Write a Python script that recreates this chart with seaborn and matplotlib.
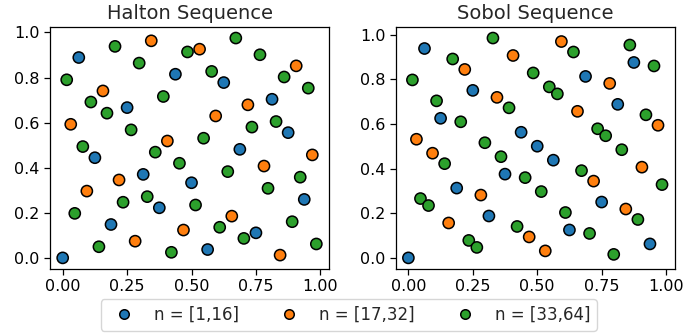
import matplotlib
matplotlib.use("Agg")
import matplotlib.pyplot as plt
import seaborn as sns
import pandas as pd

# First 64 points of the 2-D Halton sequence (bases 2 and 3)
halton_x = [
    0.0, 0.5, 0.25, 0.75, 0.125, 0.625, 0.375, 0.875,
    0.0625, 0.5625, 0.3125, 0.8125, 0.1875, 0.6875, 0.4375, 0.9375,
    0.03125, 0.53125, 0.28125, 0.78125, 0.15625, 0.65625, 0.40625, 0.90625,
    0.09375, 0.59375, 0.34375, 0.84375, 0.21875, 0.71875, 0.46875, 0.96875,
    0.015625, 0.515625, 0.265625, 0.765625, 0.140625, 0.640625, 0.390625, 0.890625,
    0.078125, 0.578125, 0.328125, 0.828125, 0.203125, 0.703125, 0.453125, 0.953125,
    0.046875, 0.546875, 0.296875, 0.796875, 0.171875, 0.671875, 0.421875, 0.921875,
    0.109375, 0.609375, 0.359375, 0.859375, 0.234375, 0.734375, 0.484375, 0.984375,
]
halton_y = [
    0.0, 0.3333, 0.6667, 0.1111, 0.4444, 0.7778, 0.2222, 0.5556,
    0.8889, 0.0370, 0.3704, 0.7037, 0.1481, 0.4815, 0.8148, 0.2593,
    0.5926, 0.9259, 0.0741, 0.4074, 0.7407, 0.1852, 0.5185, 0.8519,
    0.2963, 0.6296, 0.9630, 0.0123, 0.3457, 0.6790, 0.1235, 0.4568,
    0.7901, 0.2346, 0.5679, 0.9012, 0.0494, 0.3827, 0.7160, 0.1605,
    0.4938, 0.8272, 0.2716, 0.6049, 0.9383, 0.0864, 0.4198, 0.7531,
    0.1975, 0.5309, 0.8642, 0.3086, 0.6420, 0.9753, 0.0247, 0.3580,
    0.6914, 0.1358, 0.4691, 0.8025, 0.2469, 0.5802, 0.9136, 0.0617,
]

# First 64 points of the unscrambled 2-D Sobol sequence
sobol_x = [
    0.0, 0.5, 0.75, 0.25, 0.375, 0.875, 0.625, 0.125,
    0.1875, 0.6875, 0.9375, 0.4375, 0.3125, 0.8125, 0.5625, 0.0625,
    0.09375, 0.59375, 0.84375, 0.34375, 0.46875, 0.96875, 0.71875, 0.21875,
    0.15625, 0.65625, 0.90625, 0.40625, 0.28125, 0.78125, 0.53125, 0.03125,
    0.046875, 0.546875, 0.796875, 0.296875, 0.421875, 0.921875, 0.671875, 0.171875,
    0.234375, 0.734375, 0.984375, 0.484375, 0.359375, 0.859375, 0.609375, 0.109375,
    0.078125, 0.578125, 0.828125, 0.328125, 0.453125, 0.953125, 0.703125, 0.203125,
    0.140625, 0.640625, 0.890625, 0.390625, 0.265625, 0.765625, 0.515625, 0.015625,
]
sobol_y = [
    0.0, 0.5, 0.25, 0.75, 0.375, 0.875, 0.125, 0.625,
    0.3125, 0.8125, 0.0625, 0.5625, 0.1875, 0.6875, 0.4375, 0.9375,
    0.46875, 0.96875, 0.21875, 0.71875, 0.09375, 0.59375, 0.34375, 0.84375,
    0.15625, 0.65625, 0.40625, 0.90625, 0.28125, 0.78125, 0.03125, 0.53125,
    0.265625, 0.765625, 0.015625, 0.515625, 0.140625, 0.640625, 0.390625, 0.890625,
    0.078125, 0.578125, 0.328125, 0.828125, 0.453125, 0.953125, 0.203125, 0.703125,
    0.234375, 0.734375, 0.484375, 0.984375, 0.359375, 0.859375, 0.109375, 0.609375,
    0.421875, 0.921875, 0.171875, 0.671875, 0.046875, 0.546875, 0.296875, 0.796875,
]

group_labels = ["n = [1,16]", "n = [17,32]", "n = [33,64]"]
group_sizes = [16, 16, 32]
panel_titles = ["Halton Sequence", "Sobol Sequence"]
palette = ["#1f77b4", "#ff7f0e", "#2ca02c"]

groups = [lab for lab, size in zip(group_labels, group_sizes) for _ in range(size)]
frames = [
    pd.DataFrame({"x": halton_x, "y": halton_y, "group": groups}),
    pd.DataFrame({"x": sobol_x, "y": sobol_y, "group": groups}),
]

sns.set_theme(style="ticks")
plt.rcParams["font.family"] = ["DejaVu Sans"]
plt.rcParams["axes.edgecolor"] = "black"
plt.rcParams["xtick.color"] = "black"
plt.rcParams["ytick.color"] = "black"

fig, axes = plt.subplots(1, 2, figsize=(6.85, 3.34), dpi=100)
fig.subplots_adjust(left=0.073, right=0.985, top=0.919, bottom=0.195, wspace=0.239)

for ax, df, title in zip(axes, frames, panel_titles):
    sns.scatterplot(
        data=df, x="x", y="y", hue="group", hue_order=group_labels,
        palette=palette, s=65, edgecolor="black", linewidth=1.1,
        ax=ax, legend=(ax is axes[0]), zorder=3,
    )
    ax.set_title(title, fontsize=14, pad=6)
    ax.set_xlabel("")
    ax.set_ylabel("")
    ax.set_xticks([0.0, 0.25, 0.5, 0.75, 1.0])
    ax.set_xticklabels(["0.00", "0.25", "0.50", "0.75", "1.00"])
    ax.set_yticks([0.0, 0.2, 0.4, 0.6, 0.8, 1.0])
    ax.tick_params(labelsize=11.5, length=4, width=0.9)
    for sp in ax.spines.values():
        sp.set_linewidth(0.9)
        sp.set_visible(True)

handles, labels = axes[0].get_legend_handles_labels()
axes[0].get_legend().remove()
fig.legend(handles, labels, loc="lower center", ncol=3, frameon=True,
           fontsize=12, bbox_to_anchor=(0.509, -0.015), columnspacing=2.0,
           handletextpad=0.8, markerscale=0.85, edgecolor="#cccccc")

fig.savefig("out.png", dpi=100)
